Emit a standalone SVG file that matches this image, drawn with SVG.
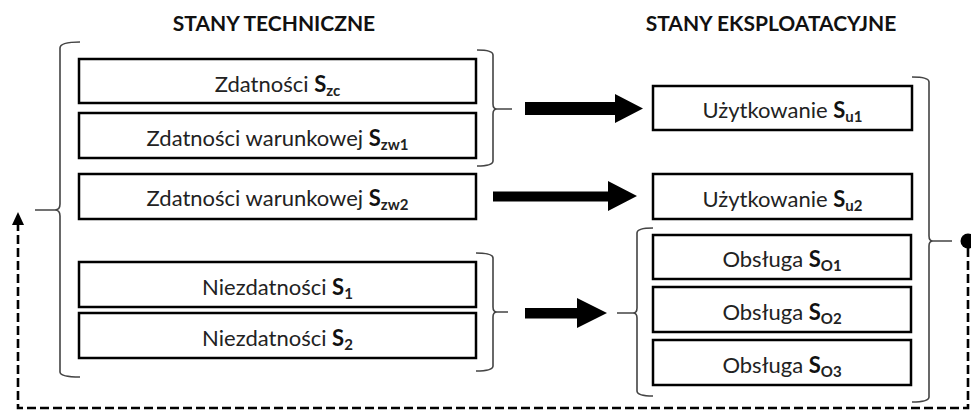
<svg xmlns="http://www.w3.org/2000/svg" width="971" height="410" viewBox="0 0 971 410">
<defs>
<style>
.box{fill:#fff;stroke:#000;stroke-width:2.5}
.t{font-family:Lato,"Liberation Sans",sans-serif;font-size:22px;fill:#222;text-anchor:middle}
.b{font-weight:bold;fill:#111}
.sub{font-weight:bold;font-size:15px}
.title{font-family:Lato,"Liberation Sans",sans-serif;font-size:21px;font-weight:bold;fill:#111;text-anchor:middle}
.brace{fill:none;stroke:#444;stroke-width:1.6}
.dash{fill:none;stroke:#000;stroke-width:2.6;stroke-dasharray:9 4}
</style>
</defs>
<rect width="971" height="410" fill="#fff"/>
<text class="title" x="274" y="31">STANY TECHNICZNE</text>
<text class="title" x="771" y="31">STANY EKSPLOATACYJNE</text>

<g id="n_zc"><rect class="box" x="79" y="59" width="397" height="44"/><text class="t" x="277.5" y="91.5">Zdatności <tspan class="b">S</tspan><tspan class="sub" dy="4">zc</tspan></text></g>
<g id="n_zw1"><rect class="box" x="79" y="113" width="397" height="45"/><text class="t" x="277.5" y="146">Zdatności warunkowej <tspan class="b">S</tspan><tspan class="sub" dy="4">zw1</tspan></text></g>
<g id="n_zw2"><rect class="box" x="79" y="174" width="397" height="45"/><text class="t" x="277.5" y="206">Zdatności warunkowej <tspan class="b">S</tspan><tspan class="sub" dy="4">zw2</tspan></text></g>
<g id="n_s1"><rect class="box" x="79" y="262" width="397" height="45"/><text class="t" x="277.5" y="294.5">Niezdatności <tspan class="b">S</tspan><tspan class="sub" dy="4">1</tspan></text></g>
<g id="n_s2"><rect class="box" x="79" y="313" width="397" height="45"/><text class="t" x="277.5" y="345.5">Niezdatności <tspan class="b">S</tspan><tspan class="sub" dy="4">2</tspan></text></g>

<g id="n_u1"><rect class="box" x="653" y="86" width="259" height="44"/><text class="t" x="782.5" y="118">Użytkowanie <tspan class="b">S</tspan><tspan class="sub" dy="4">u1</tspan></text></g>
<g id="n_u2"><rect class="box" x="653" y="174" width="259" height="45"/><text class="t" x="782.5" y="206.5">Użytkowanie <tspan class="b">S</tspan><tspan class="sub" dy="4">u2</tspan></text></g>
<g id="n_o1"><rect class="box" x="653" y="235" width="258" height="44"/><text class="t" x="782" y="267">Obsługa <tspan class="b">S</tspan><tspan class="sub" dy="4">O1</tspan></text></g>
<g id="n_o2"><rect class="box" x="653" y="287" width="258" height="45"/><text class="t" x="782" y="319.5">Obsługa <tspan class="b">S</tspan><tspan class="sub" dy="4">O2</tspan></text></g>
<g id="n_o3"><rect class="box" x="653" y="340" width="258" height="45"/><text class="t" x="782" y="372.5">Obsługa <tspan class="b">S</tspan><tspan class="sub" dy="4">O3</tspan></text></g>

<g id="braces">
<path class="brace" d="M80,42 Q60,42 60,48 L60,204 Q60,210 55,210 L35,210 M55,210 Q60,210 60,216 L60,372 Q60,377 80,377"/>
<path class="brace" d="M477,50 Q493,50 493,55 L493,104 Q493,109 497,109 L512,109 M497,109 Q493,109 493,114 L493,161 Q493,166 477,166"/>
<path class="brace" d="M476,253 Q493,253 493,258 L493,307 Q493,312 497,312 L508,312 M497,312 Q493,312 493,317 L493,366 Q493,371 476,371"/>
<path class="brace" d="M653,228 Q637,228 637,233 L637,308 Q637,313 633,313 L617,313 M633,313 Q637,313 637,318 L637,391 Q637,396 653,396"/>
<path class="brace" d="M912,77 Q929,77 929,82 L929,236 Q929,241 933,241 L952,241 M933,241 Q929,241 929,246 L929,397 Q929,402 912,402"/>
</g>

<g id="connectors">
<polygon points="525,102 615,102 615,94 643,108.5 615,123 615,115 525,115" fill="#000"/>
<polygon points="493,191.5 608,191.5 608,181 637,196 608,211 608,201.5 493,201.5" fill="#000"/>
<polygon points="525,308 577,308 577,298 607,313 577,328 577,318.5 525,318.5" fill="#000"/>
<circle cx="968" cy="241" r="7.5" fill="#000"/>
<path class="dash" d="M968,248 L968,408 L18,408 L18,224"/>
<polygon points="18,212 12,225 24,225" fill="#000"/>
</g>
</svg>
